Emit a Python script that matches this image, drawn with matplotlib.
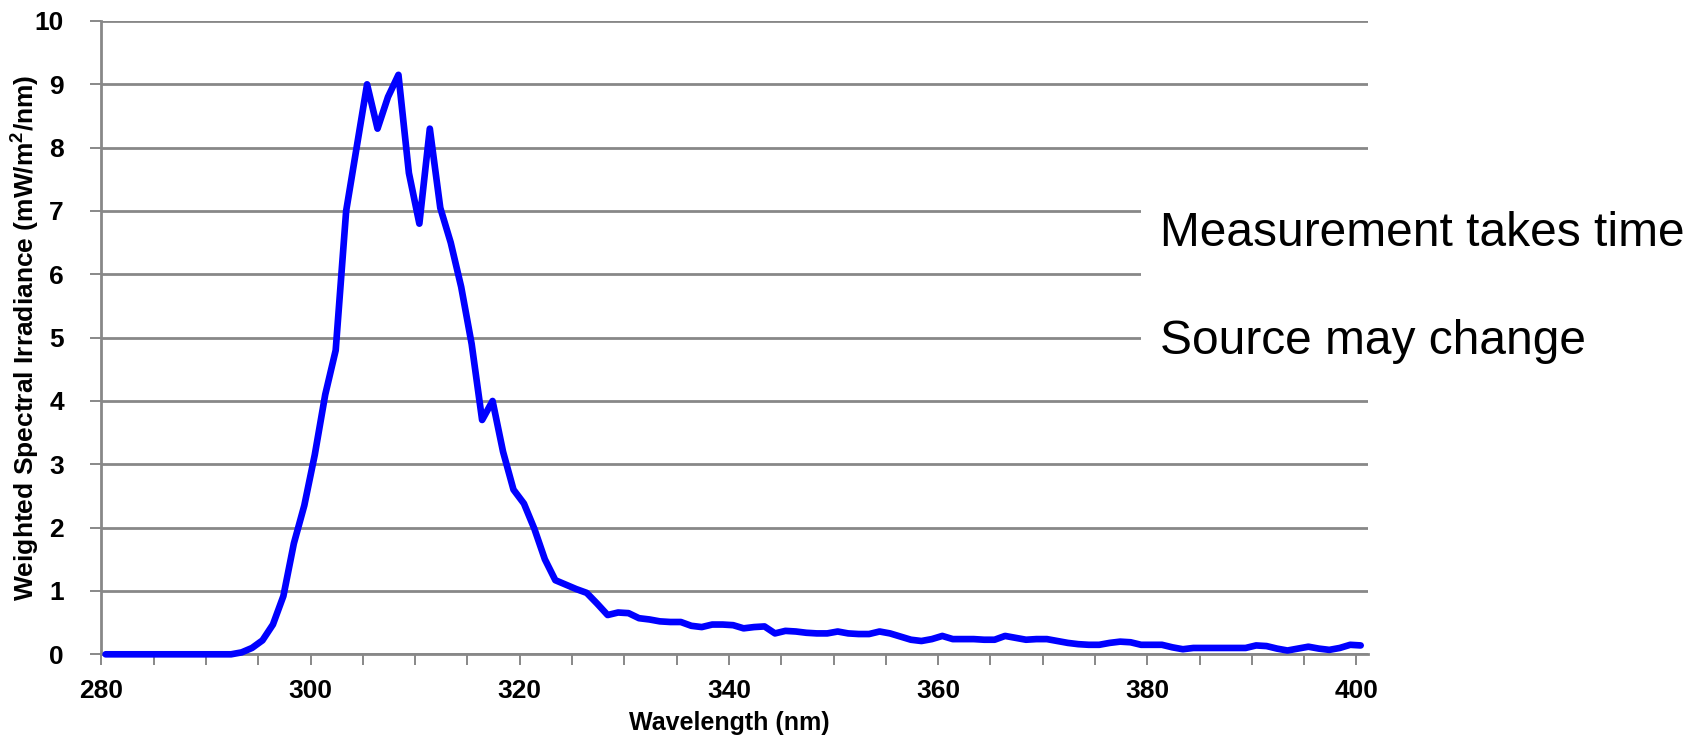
import numpy as np
import matplotlib
matplotlib.use("Agg")
import matplotlib.pyplot as plt
from matplotlib.patches import Rectangle
from matplotlib.ticker import MultipleLocator

# ---- data ----
wavelength_start = 280.4  # nm, 1 nm sampling
irradiance = [
    0, 0, 0, 0, 0, 0, 0, 0, 0, 0,            # 280-289
    0, 0, 0, 0.03, 0.10, 0.22, 0.47, 0.92, 1.75, 2.35,   # 290-299
    3.15, 4.10, 4.80, 7.00, 8.00, 9.00, 8.30, 8.80, 9.15, 7.60,  # 300-309
    6.80, 8.30, 7.05, 6.50, 5.80, 4.90, 3.70, 4.00, 3.20, 2.60,  # 310-319
    2.38, 1.98, 1.50, 1.17, 1.10, 1.03, 0.97, 0.80, 0.62, 0.66,  # 320-329
    0.65, 0.57, 0.55, 0.52, 0.51, 0.51, 0.45, 0.43, 0.47, 0.47,  # 330-339
    0.46, 0.41, 0.43, 0.44, 0.33, 0.37, 0.36, 0.34, 0.33, 0.33,  # 340-349
    0.36, 0.33, 0.32, 0.32, 0.36, 0.33, 0.28, 0.23, 0.21, 0.24,  # 350-359
    0.29, 0.24, 0.24, 0.24, 0.23, 0.23, 0.29, 0.26, 0.23, 0.24,  # 360-369
    0.24, 0.21, 0.18, 0.16, 0.15, 0.15, 0.18, 0.20, 0.19, 0.15,  # 370-379
    0.15, 0.15, 0.11, 0.08, 0.10, 0.10, 0.10, 0.10, 0.10, 0.10,  # 380-389
    0.14, 0.13, 0.09, 0.06, 0.09, 0.12, 0.09, 0.07, 0.10, 0.15,  # 390-399
    0.14,                                                         # 400
]
wavelength = wavelength_start + np.arange(len(irradiance))

x_tick_labels = [280, 300, 320, 340, 360, 380, 400]
y_tick_labels = list(range(0, 11))
notes = ["Measurement takes time", "Source may change"]

# ---- figure ----
W, H = 1700, 743
fig = plt.figure(figsize=(W / 100, H / 100), dpi=100)
left_px, right_px, top_px, bottom_px = 101.4, 1368, 21, 654.3
ax = fig.add_axes([left_px / W, 1 - bottom_px / H,
                   (right_px - left_px) / W, (bottom_px - top_px) / H])

grid_c = "#888888"
ax.plot(wavelength, irradiance, color="#0000ff", lw=4.8,
        solid_joinstyle="round", solid_capstyle="round", zorder=3, clip_on=False)

ax.set_xlim(280, 401.1)
ax.set_ylim(0, 10)
ax.set_xticks(x_tick_labels)
ax.xaxis.set_minor_locator(MultipleLocator(5))
ax.set_yticks(y_tick_labels)
ax.yaxis.grid(True, color=grid_c, lw=2.0)
ax.set_axisbelow(True)

for s in ["top", "right"]:
    ax.spines[s].set_visible(False)
for s in ["left", "bottom"]:
    ax.spines[s].set_color(grid_c)
    ax.spines[s].set_linewidth(2.0)

fam = ["Liberation Sans", "DejaVu Sans"]
tick_font = dict(family=fam, weight="bold", size=19)
ax.tick_params(axis="both", which="both", color=grid_c, width=1.4, length=8,
               direction="out")
ax.tick_params(axis="x", which="major", pad=10)
ax.tick_params(axis="y", which="major", pad=19)
ax.set_xticklabels([str(v) for v in x_tick_labels], **tick_font)
ax.set_yticklabels([str(v) for v in y_tick_labels], **tick_font)

ax.set_xlabel("Wavelength (nm)", fontdict=dict(family=fam, weight="bold", size=18))
ax.xaxis.label.set_va("center")
ax.xaxis.set_label_coords((729 - left_px) / (right_px - left_px),
                          -(723 - bottom_px) / (bottom_px - top_px))
ax.set_ylabel("Weighted Spectral Irradiance (mW/m$^\\mathregular{2}$/nm)",
              fontdict=dict(family=fam, weight="bold", size=19))
ax.yaxis.label.set_va("center")
ax.yaxis.set_label_coords(-(left_px - 25) / (right_px - left_px), 0.5)

# white text box covering the right part of the gridlines
box = Rectangle((1141 / W, 1 - 385 / H), (W - 1141) / W, (385 - 165) / H,
                transform=fig.transFigure, facecolor="white", edgecolor="none", zorder=5)
fig.add_artist(box)
note_font = dict(family=fam, size=34.5, color="black")
fig.text(1160 / W, 1 - 234 / H, notes[0], va="center", ha="left", zorder=6, **note_font)
fig.text(1160 / W, 1 - 342 / H, notes[1], va="center", ha="left", zorder=6, **note_font)

fig.savefig("out.png", dpi=100, facecolor="white")
